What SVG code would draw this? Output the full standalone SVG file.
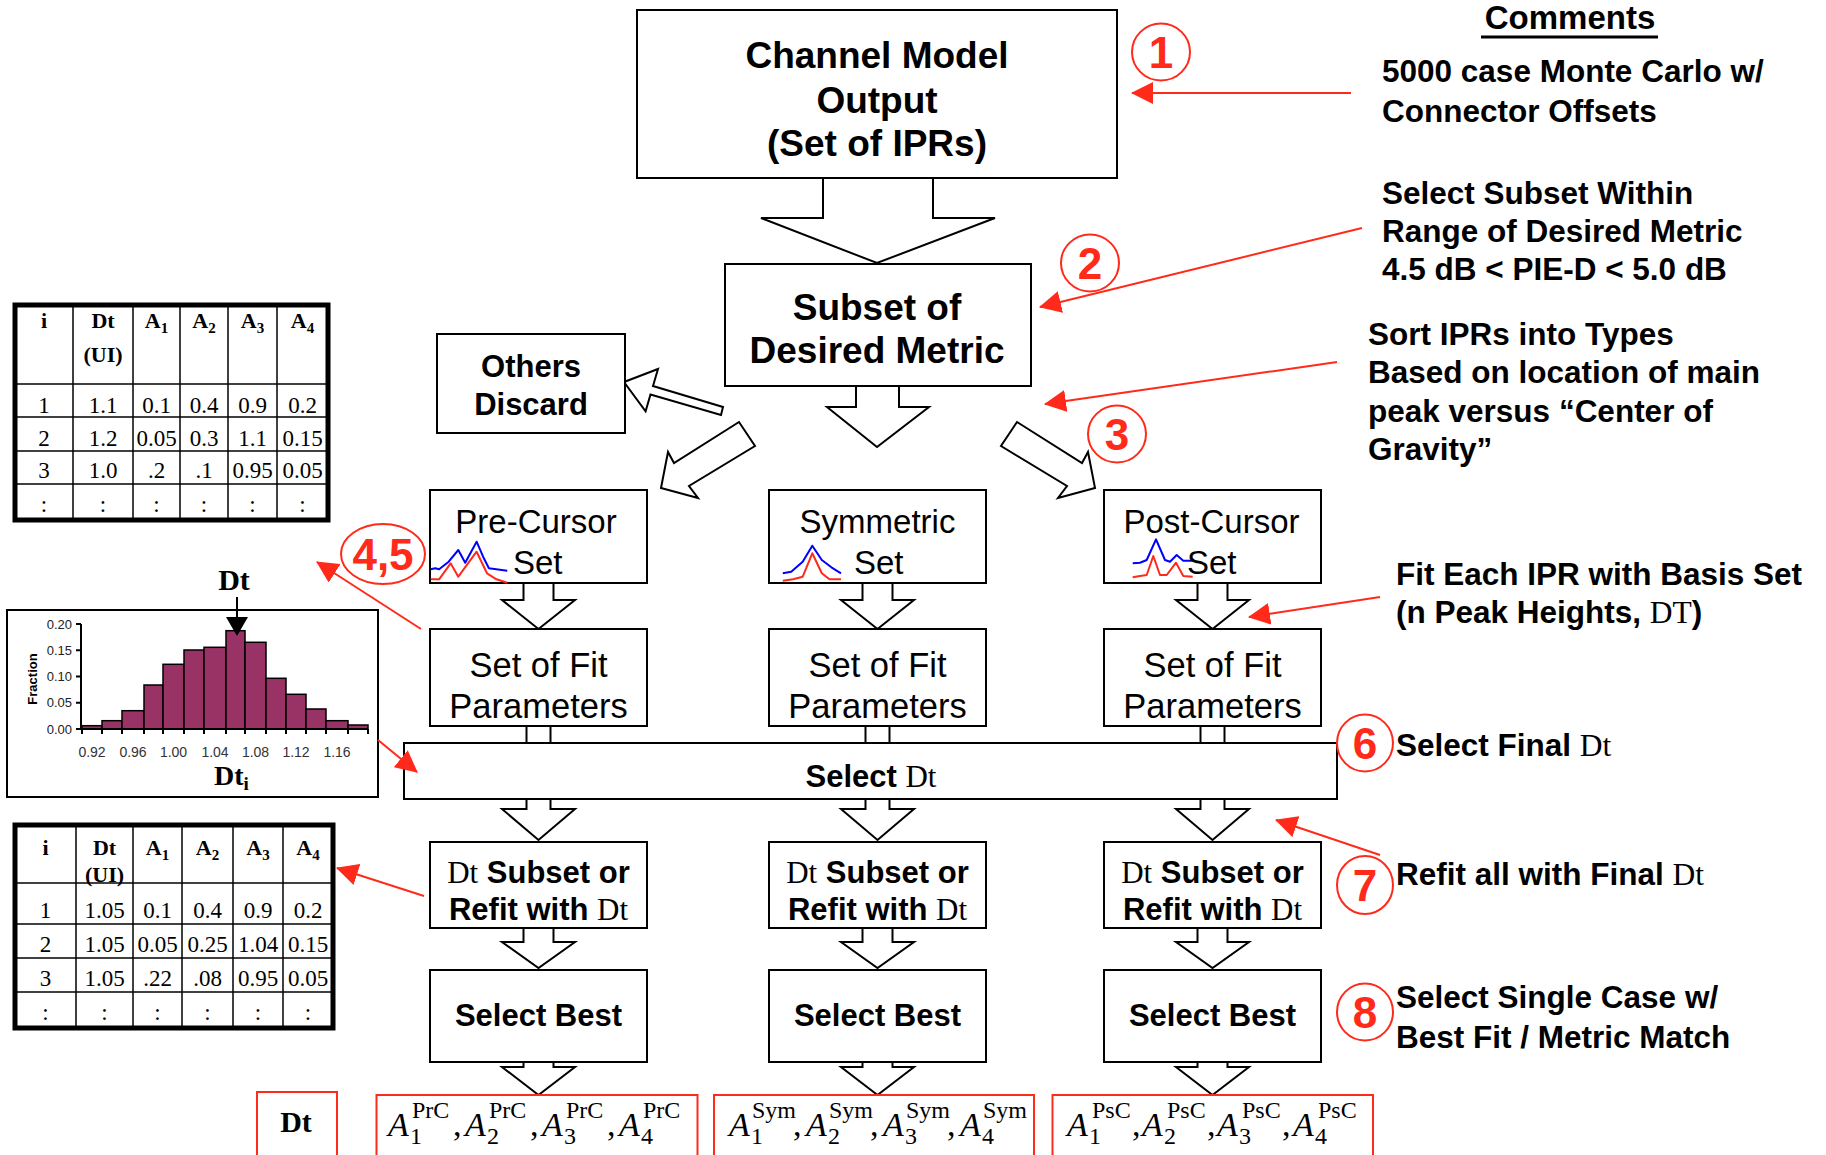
<svg xmlns="http://www.w3.org/2000/svg" width="1826" height="1155" viewBox="0 0 1826 1155">
<defs>
<marker id="rh" markerUnits="userSpaceOnUse" markerWidth="22" markerHeight="22" refX="21" refY="11" orient="auto">
<path d="M0,0 L22,11 L0,22 z" fill="#ff2a1a"/>
</marker>
</defs>
<style>
.box{fill:#fff;stroke:#000;stroke-width:2}
.blk{fill:#fff;stroke:#000;stroke-width:2;stroke-linejoin:miter}
.stem{stroke:#000;stroke-width:2}
.b{font-family:"Liberation Sans",Arial,sans-serif;font-weight:bold;fill:#000}
.r{font-family:"Liberation Sans",Arial,sans-serif;fill:#000}
.sf{font-family:"Liberation Serif","Times New Roman",serif;font-weight:normal}
.t{font-family:"Liberation Serif","Times New Roman",serif;fill:#000}
.tb{font-family:"Liberation Serif","Times New Roman",serif;font-weight:bold;fill:#000}
.red{fill:none;stroke:#ff2a1a;stroke-width:2}
.ra{fill:none;stroke:#ff2a1a;stroke-width:2;marker-end:url(#rh)}
.num{font-family:"Liberation Sans",Arial,sans-serif;font-weight:bold;fill:#ff2a1a;font-size:44px;text-anchor:middle}
.cm{font-size:31.5px}
.rb{fill:#fff;stroke:#ff2a1a;stroke-width:2}
.wb{fill:none;stroke:#0000ff;stroke-width:2;stroke-linejoin:round}
.wr{fill:none;stroke:#ff2a1a;stroke-width:2;stroke-linejoin:round}
.tl{stroke:#000;stroke-width:1.5}
.bar{fill:#993366;stroke:#000;stroke-width:1.5}
.ax{stroke:#000;stroke-width:2;fill:none}
.lab{font-family:"Liberation Sans",Arial,sans-serif;font-size:13px;fill:#222}
.xl{font-family:"Liberation Sans",Arial,sans-serif;font-size:14px;fill:#333;text-anchor:middle}
</style>

<!-- connectors -->
<g id="connectors">
  <polyline class="blk" points="823,178 823,218 761,218 877,263 995,218 933,218 933,178"/>
  <polyline class="blk" points="856,386 856,407 827,407 877,447 929,407 899,407 899,386"/>
  <polygon class="blk" points="624,382 658,369 653,386 723,407 721,415 650.5,394.5 645.6,411.3"/>
  <polygon class="blk" points="739,422 674,463 668,452 661,488 698,498 689,486 755,446"/>
  <polygon class="blk" points="1017,422 1082,463 1088,452 1095,488 1058,498 1067,486 1001,446"/>
  <polyline class="blk" points="523.5,583 523.5,600 502,600 538.5,629 575,600 553.5,600 553.5,583"/>
  <polyline class="blk" points="862.5,583 862.5,600 841,600 877.5,629 914,600 892.5,600 892.5,583"/>
  <polyline class="blk" points="1197.5,583 1197.5,600 1176,600 1212.5,629 1249,600 1227.5,600 1227.5,583"/>
  <line class="stem" x1="526.5" y1="726" x2="526.5" y2="743"/><line class="stem" x1="550.5" y1="726" x2="550.5" y2="743"/>
  <line class="stem" x1="865.5" y1="726" x2="865.5" y2="743"/><line class="stem" x1="889.5" y1="726" x2="889.5" y2="743"/>
  <line class="stem" x1="1200.5" y1="726" x2="1200.5" y2="743"/><line class="stem" x1="1224.5" y1="726" x2="1224.5" y2="743"/>
  <polyline class="blk" points="526.5,799 526.5,809 502,809 538.5,840 575,809 550.5,809 550.5,799"/>
  <polyline class="blk" points="865.5,799 865.5,809 841,809 877.5,840 914,809 889.5,809 889.5,799"/>
  <polyline class="blk" points="1200.5,799 1200.5,809 1176,809 1212.5,840 1249,809 1224.5,809 1224.5,799"/>
  <polyline class="blk" points="523.5,928 523.5,942 502,942 538.5,968 575,942 553.5,942 553.5,928"/>
  <polyline class="blk" points="862.5,928 862.5,942 841,942 877.5,968 914,942 892.5,942 892.5,928"/>
  <polyline class="blk" points="1197.5,928 1197.5,942 1176,942 1212.5,968 1249,942 1227.5,942 1227.5,928"/>
  <polyline class="blk" points="523.5,1062 523.5,1067 502,1067 538.5,1095 575,1067 553.5,1067 553.5,1062"/>
  <polyline class="blk" points="862.5,1062 862.5,1067 841,1067 877.5,1095 914,1067 892.5,1067 892.5,1062"/>
  <polyline class="blk" points="1197.5,1062 1197.5,1067 1176,1067 1212.5,1095 1249,1067 1227.5,1067 1227.5,1062"/>
</g>

<g id="channel"><rect class="box" x="637" y="10" width="480" height="168"/>
<text class="b" font-size="37" text-anchor="middle"><tspan x="877" y="68">Channel Model</tspan><tspan x="877" y="113">Output</tspan><tspan x="877" y="156">(Set of IPRs)</tspan></text></g>

<g id="subset"><rect class="box" x="725" y="264" width="306" height="122"/>
<text class="b" font-size="37" text-anchor="middle"><tspan x="877" y="320">Subset of</tspan><tspan x="877" y="363">Desired Metric</tspan></text></g>

<g id="others"><rect class="box" x="437" y="334" width="188" height="99"/>
<text class="b" font-size="31" text-anchor="middle"><tspan x="531" y="377">Others</tspan><tspan x="531" y="415">Discard</tspan></text></g>

<g id="precursor"><rect class="box" x="430" y="490" width="217" height="93"/>
<text class="r" font-size="33" x="536" y="533" text-anchor="middle">Pre-Cursor</text>
<text class="r" font-size="33" x="513" y="574">Set</text>
<polyline class="wb" points="430.7,569.3 435.3,568.3 439.1,569.3 448.7,561.7 458.3,550 465.2,562.7 476.6,541.7 483.1,556.7 488.9,568.3 507.3,570.7"/>
<polyline class="wr" points="430.7,579.3 439.1,579.3 450.6,563.3 458.3,576.7 476.6,551.7 487,573.3 496.5,579.3 507.3,582.7"/>
</g>

<g id="symmetric"><rect class="box" x="769" y="490" width="217" height="93"/>
<text class="r" font-size="33" x="877.5" y="533" text-anchor="middle">Symmetric</text>
<text class="r" font-size="33" x="854" y="574">Set</text>
<polyline class="wb" points="782.8,573.3 791.2,571.7 802.7,561.7 812.3,545.7 821.8,560 831.4,567.3 841,573.3"/>
<polyline class="wr" points="782.8,580.7 793.1,579.3 802.7,576.7 812.3,553.3 821.8,573.3 829.5,579.3 841,579.3"/>
</g>

<g id="postcursor"><rect class="box" x="1104" y="490" width="217" height="93"/>
<text class="r" font-size="33" x="1211.5" y="533" text-anchor="middle">Post-Cursor</text>
<polyline class="wb" points="1132.7,563.3 1140,562.7 1146.7,560 1156,539.3 1165,560 1170,561.7 1176.7,555 1183.3,560.7 1193.3,560.7"/>
<polyline class="wr" points="1132.7,577.3 1140,576 1146.7,575 1153.3,556 1160,575 1166.7,575 1176,562.7 1183.3,576 1192.7,576.7"/>
<text class="r" font-size="33" x="1187" y="574">Set</text>
</g>

<g id="fit-pre"><rect class="box" x="430" y="629" width="217" height="97"/>
<text class="r" font-size="34.5" text-anchor="middle"><tspan x="538.5" y="677">Set of Fit</tspan><tspan x="538.5" y="718">Parameters</tspan></text></g>
<g id="fit-sym"><rect class="box" x="769" y="629" width="217" height="97"/>
<text class="r" font-size="34.5" text-anchor="middle"><tspan x="877.5" y="677">Set of Fit</tspan><tspan x="877.5" y="718">Parameters</tspan></text></g>
<g id="fit-post"><rect class="box" x="1104" y="629" width="217" height="97"/>
<text class="r" font-size="34.5" text-anchor="middle"><tspan x="1212.5" y="677">Set of Fit</tspan><tspan x="1212.5" y="718">Parameters</tspan></text></g>

<g id="select-dt"><rect class="box" x="404" y="743" width="933" height="56"/>
<text class="b" font-size="31" x="871" y="787" text-anchor="middle">Select <tspan class="sf">Dt</tspan></text></g>

<g id="refit-pre"><rect class="box" x="430" y="842" width="217" height="86"/>
<text class="b" font-size="31" text-anchor="middle"><tspan x="538.5" y="883"><tspan class="sf">Dt</tspan> Subset or</tspan><tspan x="538.5" y="920">Refit with <tspan class="sf">Dt</tspan></tspan></text></g>
<g id="refit-sym"><rect class="box" x="769" y="842" width="217" height="86"/>
<text class="b" font-size="31" text-anchor="middle"><tspan x="877.5" y="883"><tspan class="sf">Dt</tspan> Subset or</tspan><tspan x="877.5" y="920">Refit with <tspan class="sf">Dt</tspan></tspan></text></g>
<g id="refit-post"><rect class="box" x="1104" y="842" width="217" height="86"/>
<text class="b" font-size="31" text-anchor="middle"><tspan x="1212.5" y="883"><tspan class="sf">Dt</tspan> Subset or</tspan><tspan x="1212.5" y="920">Refit with <tspan class="sf">Dt</tspan></tspan></text></g>

<g id="best-pre"><rect class="box" x="430" y="970" width="217" height="92"/>
<text class="b" font-size="31" x="538.5" y="1026" text-anchor="middle">Select Best</text></g>
<g id="best-sym"><rect class="box" x="769" y="970" width="217" height="92"/>
<text class="b" font-size="31" x="877.5" y="1026" text-anchor="middle">Select Best</text></g>
<g id="best-post"><rect class="box" x="1104" y="970" width="217" height="92"/>
<text class="b" font-size="31" x="1212.5" y="1026" text-anchor="middle">Select Best</text></g>

<g id="out-dt"><rect class="rb" x="257" y="1092" width="80" height="64"/>
<text class="tb" font-size="30" x="296" y="1132" text-anchor="middle">Dt</text></g>

<g id="out-prc"><rect class="rb" x="376.5" y="1095" width="321" height="61"/>
<text class="t" font-size="34">
<tspan x="388" y="1136" font-style="italic">A</tspan><tspan x="410" y="1144" font-size="24">1</tspan><tspan x="412" y="1118" font-size="24">PrC</tspan><tspan x="453" y="1136">,</tspan>
<tspan x="465" y="1136" font-style="italic">A</tspan><tspan x="487" y="1144" font-size="24">2</tspan><tspan x="489" y="1118" font-size="24">PrC</tspan><tspan x="530" y="1136">,</tspan>
<tspan x="542" y="1136" font-style="italic">A</tspan><tspan x="564" y="1144" font-size="24">3</tspan><tspan x="566" y="1118" font-size="24">PrC</tspan><tspan x="607" y="1136">,</tspan>
<tspan x="619" y="1136" font-style="italic">A</tspan><tspan x="641" y="1144" font-size="24">4</tspan><tspan x="643" y="1118" font-size="24">PrC</tspan>
</text></g>

<g id="out-sym"><rect class="rb" x="714" y="1095" width="320" height="61"/>
<text class="t" font-size="34">
<tspan x="729" y="1136" font-style="italic">A</tspan><tspan x="751" y="1144" font-size="24">1</tspan><tspan x="752" y="1118" font-size="24">Sym</tspan><tspan x="793" y="1136">,</tspan>
<tspan x="806" y="1136" font-style="italic">A</tspan><tspan x="828" y="1144" font-size="24">2</tspan><tspan x="829" y="1118" font-size="24">Sym</tspan><tspan x="870" y="1136">,</tspan>
<tspan x="883" y="1136" font-style="italic">A</tspan><tspan x="905" y="1144" font-size="24">3</tspan><tspan x="906" y="1118" font-size="24">Sym</tspan><tspan x="947" y="1136">,</tspan>
<tspan x="960" y="1136" font-style="italic">A</tspan><tspan x="982" y="1144" font-size="24">4</tspan><tspan x="983" y="1118" font-size="24">Sym</tspan>
</text></g>

<g id="out-psc"><rect class="rb" x="1052.5" y="1095" width="320.5" height="61"/>
<text class="t" font-size="34">
<tspan x="1067" y="1136" font-style="italic">A</tspan><tspan x="1089" y="1144" font-size="24">1</tspan><tspan x="1092" y="1118" font-size="24">PsC</tspan><tspan x="1132" y="1136">,</tspan>
<tspan x="1142" y="1136" font-style="italic">A</tspan><tspan x="1164" y="1144" font-size="24">2</tspan><tspan x="1167" y="1118" font-size="24">PsC</tspan><tspan x="1207" y="1136">,</tspan>
<tspan x="1217" y="1136" font-style="italic">A</tspan><tspan x="1239" y="1144" font-size="24">3</tspan><tspan x="1242" y="1118" font-size="24">PsC</tspan><tspan x="1282" y="1136">,</tspan>
<tspan x="1293" y="1136" font-style="italic">A</tspan><tspan x="1315" y="1144" font-size="24">4</tspan><tspan x="1318" y="1118" font-size="24">PsC</tspan>
</text></g>

<!-- table 1 -->
<g id="table1">
<rect x="15" y="305" width="313" height="215" fill="#fff" stroke="#000" stroke-width="5"/>
<line class="tl" x1="73" y1="305" x2="73" y2="520"/><line class="tl" x1="133" y1="305" x2="133" y2="520"/><line class="tl" x1="180" y1="305" x2="180" y2="520"/><line class="tl" x1="228" y1="305" x2="228" y2="520"/><line class="tl" x1="277" y1="305" x2="277" y2="520"/>
<line class="tl" x1="15" y1="384" x2="328" y2="384"/><line class="tl" x1="15" y1="417" x2="328" y2="417"/><line class="tl" x1="15" y1="451" x2="328" y2="451"/><line class="tl" x1="15" y1="484" x2="328" y2="484"/>
<g class="tb" font-size="22" text-anchor="middle">
<text x="44" y="328">i</text><text x="103" y="328">Dt</text><text x="103" y="362">(UI)</text>
<text x="156.5" y="328">A<tspan font-size="15" dy="5">1</tspan></text>
<text x="204" y="328">A<tspan font-size="15" dy="5">2</tspan></text>
<text x="252.5" y="328">A<tspan font-size="15" dy="5">3</tspan></text>
<text x="302.5" y="328">A<tspan font-size="15" dy="5">4</tspan></text>
</g>
<g class="t" font-size="23" text-anchor="middle">
<text x="44" y="413">1</text><text x="103" y="413">1.1</text><text x="156.5" y="413">0.1</text><text x="204" y="413">0.4</text><text x="252.5" y="413">0.9</text><text x="302.5" y="413">0.2</text>
<text x="44" y="446">2</text><text x="103" y="446">1.2</text><text x="156.5" y="446">0.05</text><text x="204" y="446">0.3</text><text x="252.5" y="446">1.1</text><text x="302.5" y="446">0.15</text>
<text x="44" y="478">3</text><text x="103" y="478">1.0</text><text x="156.5" y="478">.2</text><text x="204" y="478">.1</text><text x="252.5" y="478">0.95</text><text x="302.5" y="478">0.05</text>
<text x="44" y="512">:</text><text x="103" y="512">:</text><text x="156.5" y="512">:</text><text x="204" y="512">:</text><text x="252.5" y="512">:</text><text x="302.5" y="512">:</text>
</g>
</g>

<!-- histogram -->
<g id="histogram">
<rect x="7" y="610" width="371" height="187" fill="#fff" stroke="#000" stroke-width="2"/>
<rect class="bar" x="82" y="725.7" width="20" height="3.3"/>
<rect class="bar" x="102" y="720.7" width="20" height="8.3"/>
<rect class="bar" x="122" y="710.7" width="22" height="18.3"/>
<rect class="bar" x="144" y="685" width="19" height="44"/>
<rect class="bar" x="163" y="664.3" width="21" height="64.7"/>
<rect class="bar" x="184" y="650" width="20" height="79"/>
<rect class="bar" x="204" y="647.3" width="22" height="81.7"/>
<rect class="bar" x="226" y="630.7" width="19" height="98.3"/>
<rect class="bar" x="245" y="642.3" width="21" height="86.7"/>
<rect class="bar" x="266" y="678.3" width="20" height="50.7"/>
<rect class="bar" x="286" y="694.3" width="20" height="34.7"/>
<rect class="bar" x="306" y="709" width="20" height="20"/>
<rect class="bar" x="326" y="720.7" width="22" height="8.3"/>
<rect class="bar" x="348" y="725" width="20" height="4"/>
<path class="ax" d="M81,624 V729 H368 M76,624 H81 M76,650.25 H81 M76,676.5 H81 M76,702.75 H81 M76,729 H81 M82,729 V734 M102,729 V734 M122,729 V734 M144,729 V734 M163,729 V734 M184,729 V734 M204,729 V734 M226,729 V734 M245,729 V734 M266,729 V734 M286,729 V734 M306,729 V734 M326,729 V734 M348,729 V734 M368,729 V734"/>
<g class="lab" text-anchor="end">
<text x="72" y="628.5">0.20</text><text x="72" y="654.7">0.15</text><text x="72" y="681">0.10</text><text x="72" y="707.2">0.05</text><text x="72" y="733.5">0.00</text>
</g>
<text class="b" font-size="13" transform="translate(37,679) rotate(-90)" text-anchor="middle">Fraction</text>
<g class="xl">
<text x="92" y="757">0.92</text><text x="133" y="757">0.96</text><text x="173.5" y="757">1.00</text><text x="215" y="757">1.04</text><text x="255.5" y="757">1.08</text><text x="296" y="757">1.12</text><text x="337" y="757">1.16</text>
</g>
<text class="tb" font-size="28" x="214" y="785">Dt<tspan font-size="19" dy="5">i</tspan></text>
<text class="tb" font-size="30" x="234" y="590" text-anchor="middle">Dt</text>
<line x1="237" y1="597" x2="237" y2="620" stroke="#000" stroke-width="2"/>
<polygon points="226,617 248,617 237,636" fill="#000"/>
</g>

<!-- table 2 -->
<g id="table2">
<rect x="15" y="825" width="318" height="203" fill="#fff" stroke="#000" stroke-width="5"/>
<line class="tl" x1="76" y1="825" x2="76" y2="1028"/><line class="tl" x1="133" y1="825" x2="133" y2="1028"/><line class="tl" x1="182" y1="825" x2="182" y2="1028"/><line class="tl" x1="233" y1="825" x2="233" y2="1028"/><line class="tl" x1="283" y1="825" x2="283" y2="1028"/>
<line class="tl" x1="15" y1="883" x2="333" y2="883"/><line class="tl" x1="15" y1="924" x2="333" y2="924"/><line class="tl" x1="15" y1="958" x2="333" y2="958"/><line class="tl" x1="15" y1="992" x2="333" y2="992"/>
<g class="tb" font-size="22" text-anchor="middle">
<text x="45.5" y="855">i</text><text x="104.5" y="855">Dt</text><text x="104.5" y="882">(UI)</text>
<text x="157.5" y="855">A<tspan font-size="15" dy="5">1</tspan></text>
<text x="207.5" y="855">A<tspan font-size="15" dy="5">2</tspan></text>
<text x="258" y="855">A<tspan font-size="15" dy="5">3</tspan></text>
<text x="308" y="855">A<tspan font-size="15" dy="5">4</tspan></text>
</g>
<g class="t" font-size="23" text-anchor="middle">
<text x="45.5" y="918">1</text><text x="104.5" y="918">1.05</text><text x="157.5" y="918">0.1</text><text x="207.5" y="918">0.4</text><text x="258" y="918">0.9</text><text x="308" y="918">0.2</text>
<text x="45.5" y="952">2</text><text x="104.5" y="952">1.05</text><text x="157.5" y="952">0.05</text><text x="207.5" y="952">0.25</text><text x="258" y="952">1.04</text><text x="308" y="952">0.15</text>
<text x="45.5" y="986">3</text><text x="104.5" y="986">1.05</text><text x="157.5" y="986">.22</text><text x="207.5" y="986">.08</text><text x="258" y="986">0.95</text><text x="308" y="986">0.05</text>
<text x="45.5" y="1020">:</text><text x="104.5" y="1020">:</text><text x="157.5" y="1020">:</text><text x="207.5" y="1020">:</text><text x="258" y="1020">:</text><text x="308" y="1020">:</text>
</g>
</g>

<!-- annotations -->
<g id="annotations">
<line class="ra" x1="1351" y1="93" x2="1132" y2="93"/>
<line class="ra" x1="1362" y1="228" x2="1040" y2="307"/>
<line class="ra" x1="1337" y1="362" x2="1045" y2="404"/>
<line class="ra" x1="1380" y1="597" x2="1249" y2="617"/>
<line class="ra" x1="1380" y1="855" x2="1276" y2="820"/>
<line class="ra" x1="421" y1="629" x2="317" y2="562"/>
<line class="ra" x1="378" y1="740" x2="417" y2="772"/>
<line class="ra" x1="424" y1="896" x2="337" y2="868"/>

<ellipse class="red" cx="1161" cy="52" rx="29" ry="28.5"/><text class="num" x="1161" y="68">1</text>
<ellipse class="red" cx="1090" cy="263" rx="29" ry="28.5"/><text class="num" x="1090" y="279">2</text>
<ellipse class="red" cx="1117" cy="434" rx="29" ry="28.5"/><text class="num" x="1117" y="450">3</text>
<ellipse class="red" cx="383" cy="554" rx="42" ry="30"/><text class="num" x="383" y="570">4,5</text>
<ellipse class="red" cx="1365" cy="743" rx="28" ry="28.5"/><text class="num" x="1365" y="759">6</text>
<ellipse class="red" cx="1365" cy="885" rx="28" ry="29"/><text class="num" x="1365" y="901">7</text>
<ellipse class="red" cx="1365" cy="1012" rx="28" ry="28.5"/><text class="num" x="1365" y="1028">8</text>

<text class="b" font-size="33" x="1570" y="29" text-anchor="middle">Comments</text>
<rect x="1481" y="35.5" width="177" height="3" fill="#000"/>
<text class="b cm"><tspan x="1382" y="82">5000 case Monte Carlo w/</tspan><tspan x="1382" y="122">Connector Offsets</tspan></text>
<text class="b cm"><tspan x="1382" y="204">Select Subset Within</tspan><tspan x="1382" y="242">Range of Desired Metric</tspan><tspan x="1382" y="280">4.5 dB &lt; PIE-D &lt; 5.0 dB</tspan></text>
<text class="b cm"><tspan x="1368" y="345">Sort IPRs into Types</tspan><tspan x="1368" y="383">Based on location of main</tspan><tspan x="1368" y="422">peak versus “Center of</tspan><tspan x="1368" y="460">Gravity”</tspan></text>
<text class="b cm"><tspan x="1396" y="585">Fit Each IPR with Basis Set</tspan><tspan x="1396" y="623">(n Peak Heights, <tspan class="sf">DT</tspan>)</tspan></text>
<text class="b cm" x="1396" y="756">Select Final <tspan class="sf">Dt</tspan></text>
<text class="b cm" x="1396" y="885">Refit all with Final <tspan class="sf">Dt</tspan></text>
<text class="b cm"><tspan x="1396" y="1008">Select Single Case w/</tspan><tspan x="1396" y="1048">Best Fit / Metric Match</tspan></text>
</g>
</svg>
